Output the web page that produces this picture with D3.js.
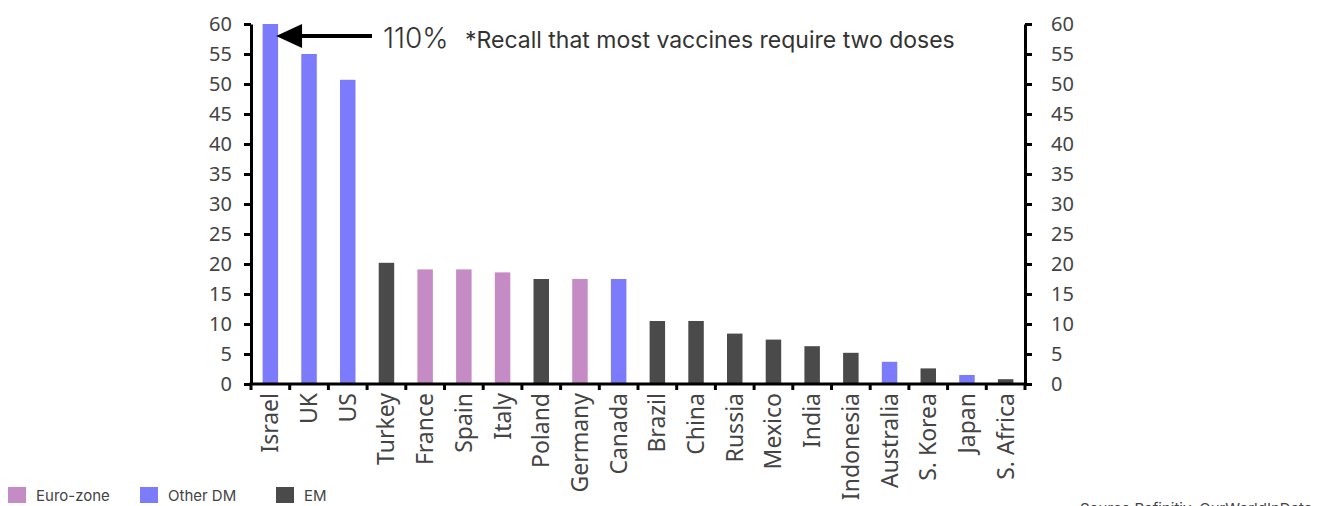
<!DOCTYPE html>
<html><head><meta charset="utf-8">
<script src="https://cdn.jsdelivr.net/npm/d3@7"></script>
<style>
html,body{margin:0;padding:0;background:#fff;overflow:hidden;}
svg{display:block;}
</style></head>
<body>
<svg id="chart" width="1336" height="506"></svg>
<script>
const categories = ["Israel","UK","US","Turkey","France","Spain","Italy","Poland","Germany","Canada","Brazil","China","Russia","Mexico","India","Indonesia","Australia","S. Korea","Japan","S. Africa"];
const values = [110, 55, 50.7, 20.2, 19.1, 19.1, 18.6, 17.5, 17.5, 17.5, 10.5, 10.5, 8.4, 7.4, 6.3, 5.2, 3.7, 2.6, 1.5, 0.8];
const groups = ["Other DM","Other DM","Other DM","EM","Euro-zone","Euro-zone","Euro-zone","EM","Euro-zone","Other DM","EM","EM","EM","EM","EM","EM","Other DM","EM","Other DM","EM"];
const legendLabels = ["Euro-zone","Other DM","EM"];
const groupColors = ["#c48bc4","#7b7bfc","#4a4a4a"];
const yTicks = [0,5,10,15,20,25,30,35,40,45,50,55,60];
const annotationValue = "110%";
const annotationNote = "*Recall that most vaccines require two doses";
const sourceText = "Source:Refinitiv, OurWorldInData";

(function(){
const svg = d3.select("#chart");
const mLeft = 251, mRight = 1025, mTop = 24, mBottom = 384;

const x = d3.scaleBand().domain(categories).range([mLeft, mRight]).paddingInner(0.6).paddingOuter(0.3);
const y = d3.scaleLinear().domain([0, 60]).range([mBottom, mTop]).clamp(true);
const color = d3.scaleOrdinal().domain(legendLabels).range(groupColors);

const data = categories.map((c, i) => ({c, v: values[i], g: groups[i]}));

svg.append("g").selectAll("rect").data(data).join("rect")
  .attr("x", d => x(d.c))
  .attr("width", x.bandwidth())
  .attr("y", d => y(d.v))
  .attr("height", d => y(0) - y(d.v))
  .attr("fill", d => color(d.g));

const tickFont = "'Noto Sans', 'Open Sans', sans-serif";

const yl = svg.append("g").attr("transform", `translate(${mLeft},0)`)
  .call(d3.axisLeft(y).tickValues(yTicks).tickSize(7).tickPadding(12).tickSizeOuter(0));
const yr = svg.append("g").attr("transform", `translate(${mRight},0)`)
  .call(d3.axisRight(y).tickValues(yTicks).tickSize(7).tickPadding(19).tickSizeOuter(0));
[yl, yr].forEach(g => {
  g.select(".domain").attr("stroke", "#000").attr("stroke-width", 3);
  g.selectAll(".tick line").attr("stroke", "#000").attr("stroke-width", 3);
  g.selectAll(".tick text").attr("fill", "#444").style("font-family", tickFont).style("font-size", "20px");
});

const xAxisG = svg.append("g").attr("transform", `translate(0,${mBottom})`);
xAxisG.append("line").attr("x1", mLeft - 1.5).attr("x2", mRight + 1.5).attr("stroke", "#000").attr("stroke-width", 3);
const bounds = d3.range(categories.length + 1).map(i => mLeft + i * (mRight - mLeft) / categories.length);
xAxisG.selectAll("line.tk").data(bounds).join("line").attr("class", "tk")
  .attr("x1", d => d).attr("x2", d => d).attr("y1", 0).attr("y2", 6)
  .attr("stroke", "#000").attr("stroke-width", 3);
xAxisG.selectAll("text").data(categories).join("text")
  .attr("transform", d => `translate(${x(d) + x.bandwidth() / 2 + 8},9) rotate(-90)`)
  .attr("text-anchor", "end")
  .attr("fill", "#444")
  .style("font-family", tickFont)
  .style("font-size", "23px")
  .text(d => d);

const ay = 36;
const tipX = x("Israel") + x.bandwidth() - 2;
svg.append("line").attr("x1", tipX + 20).attr("x2", 372).attr("y1", ay).attr("y2", ay)
  .attr("stroke", "#000").attr("stroke-width", 4);
svg.append("path")
  .attr("d", `M${tipX},${ay} L${tipX + 26},${ay - 12} L${tipX + 26},${ay + 12} Z`)
  .attr("fill", "#000");
svg.append("text").attr("x", 383).attr("y", 48)
  .style("font-family", "Inter, Roboto, sans-serif").style("font-size", "28px").style("font-weight", 300)
  .attr("fill", "#333").text(annotationValue);
svg.append("text").attr("x", 465).attr("y", 48)
  .style("font-family", "Inter, Roboto, sans-serif").style("font-size", "23px")
  .attr("fill", "#333").text(annotationNote);

const legendX = [8, 140, 276];
const lg = svg.append("g").selectAll("g").data(legendLabels).join("g")
  .attr("transform", (d, i) => `translate(${legendX[i]},487)`);
lg.append("rect").attr("width", 18).attr("height", 16).attr("fill", d => color(d));
lg.append("text").attr("x", 28).attr("y", 14)
  .style("font-family", "Inter, Roboto, sans-serif").style("font-size", "15px")
  .attr("fill", "#444").text(d => d);

svg.append("text").attr("x", 1080).attr("y", 514)
  .style("font-family", "Inter, Roboto, sans-serif").style("font-size", "15px")
  .attr("fill", "#444").text(sourceText);
})();
</script>
</body></html>
